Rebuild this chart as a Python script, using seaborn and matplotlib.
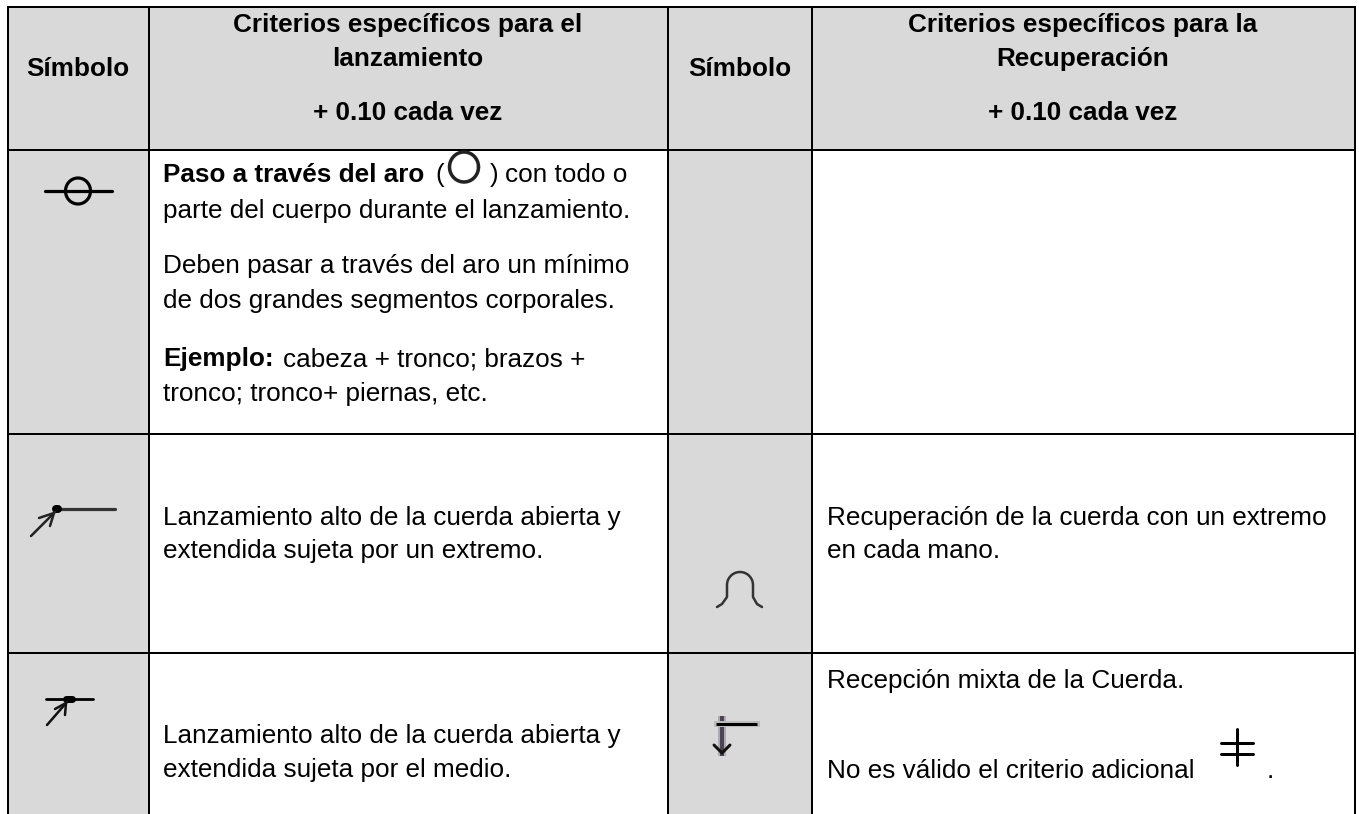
import numpy as np
import matplotlib.pyplot as plt
import seaborn as sns

# table content
headers_sym = "Símbolo"
header_left = ["Criterios específicos para el", "lanzamiento", "+ 0.10 cada vez"]
header_right = ["Criterios específicos para la", "Recuperación", "+ 0.10 cada vez"]
row1_lines = ["parte del cuerpo durante el lanzamiento.",
              "Deben pasar a través del aro un mínimo",
              "de dos grandes segmentos corporales."]
row1_last = "tronco; tronco+ piernas, etc."
row2_left = ["Lanzamiento alto de la cuerda abierta y", "extendida sujeta por un extremo."]
row2_right = ["Recuperación de la cuerda con un extremo", "en cada mano."]
row3_left = ["Lanzamiento alto de la cuerda abierta y", "extendida sujeta por el medio."]
row3_right = ["Recepción mixta de la Cuerda.", "No es válido el criterio adicional"]

# layout in pixels
W, H = 1359, 814
col_x = [8, 149, 668, 812, 1355]
row_y = [7, 150, 434, 653]
GREY = "#D9D9D9"
FS = 18.85
PX = 0.72

sns.set_theme(style="white")
plt.rcParams["font.family"] = ["Liberation Sans", "DejaVu Sans"]

fig = plt.figure(figsize=(W / 100, H / 100), dpi=100)
ax = fig.add_axes([0, 0, 1, 1])


def stroke(xs, ys, width=2.0, color="black", cap="round"):
    sns.lineplot(x=xs, y=ys, ax=ax, color=color, linewidth=width * PX, sort=False,
                 estimator=None, errorbar=None, solid_capstyle=cap, solid_joinstyle="round")


def txt(x, y, s, bold=False, ha="left", size=FS):
    ax.text(x, y, s, ha=ha, va="baseline", fontsize=size, color="black",
            fontweight="bold" if bold else "normal")


# shaded cells
ax.fill_between([col_x[0], col_x[4]], row_y[0], row_y[1], color=GREY, lw=0)
ax.fill_between([col_x[0], col_x[1]], row_y[1], H, color=GREY, lw=0)
ax.fill_between([col_x[2], col_x[3]], row_y[1], H, color=GREY, lw=0)

# rules
for x in col_x:
    stroke([x, x], [row_y[0], H], cap="butt")
for y in row_y:
    stroke([col_x[0] - 1, col_x[4] + 1], [y, y], cap="butt")

# header
txt(78, 76, headers_sym, bold=True, ha="center")
txt(740, 76, headers_sym, bold=True, ha="center")
for y, a, b in zip([32, 66, 120], header_left, header_right):
    txt(408, y, a, bold=True, ha="center")
    txt(1083, y, b, bold=True, ha="center")

# row 1
txt(163, 182, "Paso a través del aro", bold=True)
txt(435, 182, "(")
txt(490, 182, ")")
txt(505, 182, "con todo o")
for y, s in zip([218, 273, 308], row1_lines):
    txt(163, y, s)
txt(163, 366, "Ejemplo:", bold=True)
txt(283, 366, "cabeza + tronco; brazos +")
txt(163, 401, row1_last)

# row 2
for y, a, b in zip([525, 558], row2_left, row2_right):
    txt(163, y, a)
    txt(827, y, b)

# row 3
for y, s in zip([743, 777], row3_left):
    txt(163, y, s)
txt(827, 688, row3_right[0])
txt(827, 778, row3_right[1])
txt(1267, 778, ".")

# symbols, drawn by hand as in the scanned glyphs
t = np.linspace(0, 2 * np.pi, 60)
stroke(78 + 12.5 * np.cos(t), 191 + 13 * np.sin(t), 3.2)
stroke([45, 112], [191, 191], 3.2)
stroke(464 + 14.5 * np.cos(t), 167 + 15 * np.sin(t), 3.5, "#222222")

stroke([57, 115], [509, 509], 3.2, "#333333")
stroke([56, 58], [509, 509], 8)
stroke([31, 55], [536, 512], 2.5, "#222222")
stroke([39, 54, 50], [518, 513, 526], 2.5, "#222222")

stroke([46, 93], [699, 699], 2.8)
stroke([66, 72], [699, 699], 7)
stroke([47, 67], [725, 702], 2.5, "#111111")
stroke([55, 66, 65], [709, 703, 715], 2.5, "#111111")

a = np.linspace(np.pi, 2 * np.pi, 24)
ox = np.r_[717, 722, 727, 727, 740 + 13 * np.cos(a), 753, 753, 757, 762]
oy = np.r_[607, 604, 597, 585, 585 + 13 * np.sin(a), 585, 597, 604, 607]
stroke(ox, oy, 2.5, "#333333")

stroke([722, 722], [716, 756], 8, "#AFAAB0", cap="butt")
stroke([722, 722], [716, 756], 4, "#4A4550", cap="butt")
stroke([714, 760], [724, 724], 6, "#BBBBBB", cap="butt")
stroke([716, 757], [724, 724], 3, "black", cap="butt")
stroke([714, 722, 730], [745, 753, 745], 3, "#111111")

stroke([1237, 1237], [729, 765], 3)
stroke([1221, 1253], [743, 743], 3)
stroke([1221, 1253], [754, 754], 3)

ax.set_xlim(0, W)
ax.set_ylim(H, 0)
ax.axis("off")
fig.savefig("out.png", dpi=100, facecolor="white")
